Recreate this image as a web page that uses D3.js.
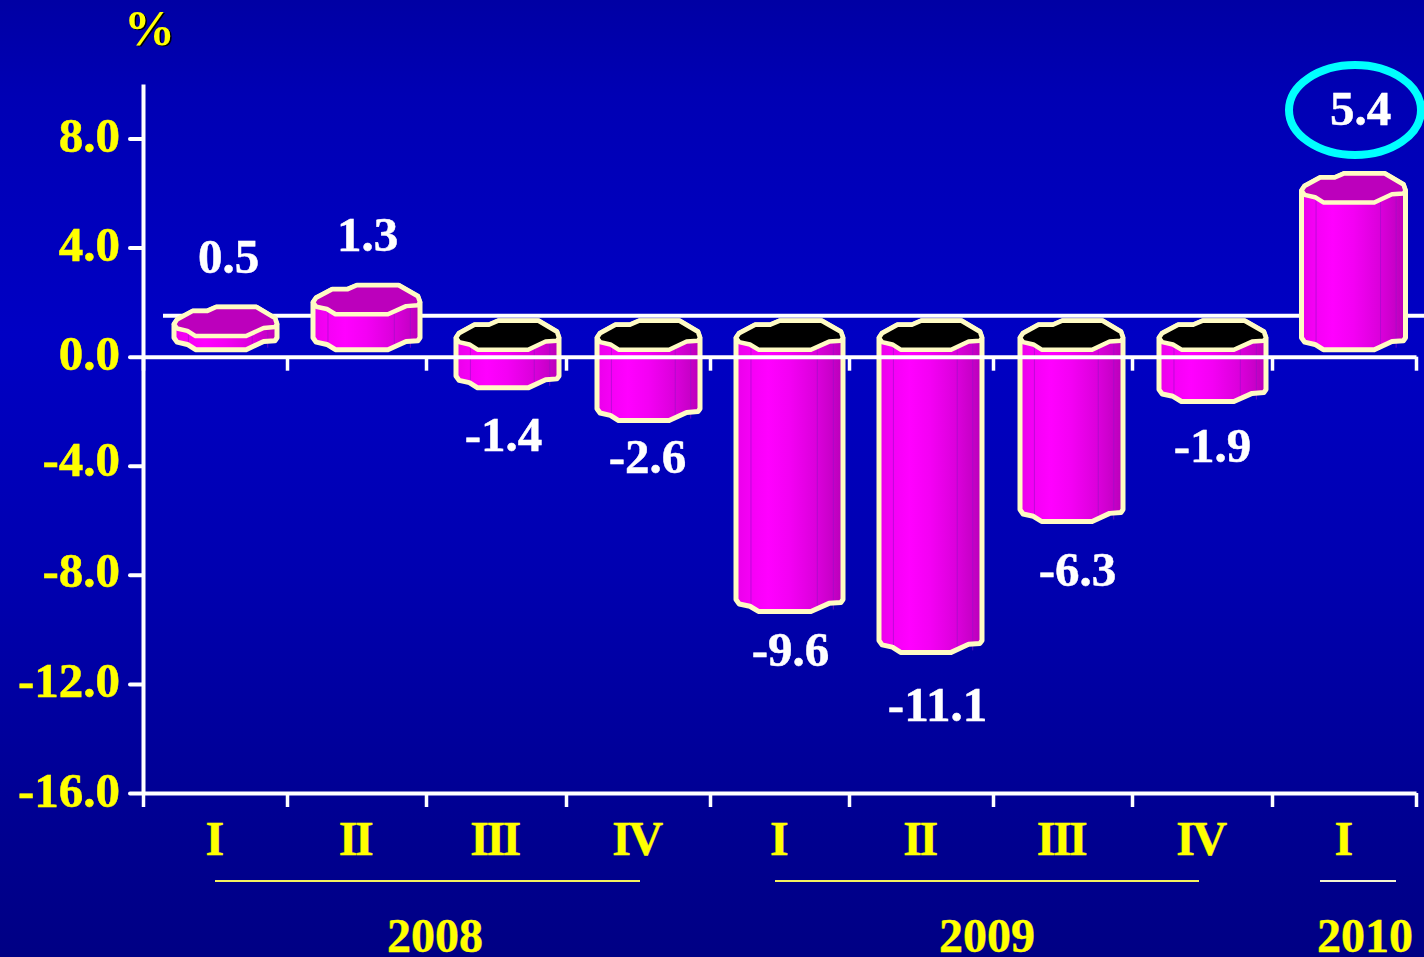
<!DOCTYPE html>
<html><head><meta charset="utf-8">
<style>
html,body{margin:0;padding:0;background:#0000a8;overflow:hidden}
svg{display:block}
text{font-family:"Liberation Serif",serif;font-weight:700}
</style>
<script src="https://cdn.jsdelivr.net/npm/d3@7"></script>
</head><body>
<script>
// ---- data ----
const quarters = ["I","II","III","IV","I","II","III","IV","I"];
const growth = [0.5,1.3,-1.4,-2.6,-9.6,-11.1,-6.3,-1.9,5.4];
const growthLabels = ["0.5","1.3","-1.4","-2.6","-9.6","-11.1","-6.3","-1.9","5.4"];
const yTicks = [8,4,0,-4,-8,-12,-16];
const years = ["2008","2009","2010"];
const unit = "%";
const floorLevel = 1.5;

// ---- layout ----
const W=1424,H=957;
const barWidths=[103,107,103,103,107,103,103,107,104], capH=29, baseLift=7;
const quarterEdgePx=[143,287,426,566,710,849,993,1132,1272,1416];
const labelNudgeX=[3,1,-4,-1,1,7,6,0,7];
const labelGap=[63,63,63,52,55,69,65,60,77];
const yearCentre=[435,987,1365];
const yearRuleFrom=[215,775,1320], yearRuleTo=[640,1199,1396];

const svg=d3.select("body").append("svg").attr("width",W).attr("height",H);
const defs=svg.append("defs");
const bg=defs.append("linearGradient").attr("id","bg").attr("x1",0).attr("x2",0).attr("y1",0).attr("y2",1);
[[0,"#0000a4"],[.1,"#0000b4"],[.35,"#0000c4"],[.6,"#0000b0"],[.85,"#000092"],[1,"#000084"]]
 .forEach(s=>bg.append("stop").attr("offset",s[0]).attr("stop-color",s[1]));
const bodyG=defs.append("linearGradient").attr("id","body").attr("x1",0).attr("x2",1).attr("y1",0).attr("y2",0);
[[0,"#ea00ea"],[.12,"#f400f4"],[.3,"#ff00ff"],[.5,"#f400f4"],[.7,"#e000e0"],[.78,"#d800d8"],[.9,"#c800c8"],[1,"#b800b8"]]
 .forEach(s=>bodyG.append("stop").attr("offset",s[0]).attr("stop-color",s[1]));
svg.append("rect").attr("width",W).attr("height",H).attr("fill","url(#bg)");

const y=d3.scaleLinear().domain([-16,10]).range([793,84]);
const x=d3.scaleLinear().domain(d3.range(10)).range(quarterEdgePx);
const barX=d3.scaleLinear().domain([0,8]).range([225.5,1353.5]);

// back line
svg.append("line").attr("x1",163).attr("x2",W).attr("y1",y(floorLevel)).attr("y2",y(floorLevel))
 .attr("stroke","#fff").attr("stroke-width",4);

// cap outline, normalised to bar width / cap height
const capBack=[[0,.59],[.03,.43],[.18,.14],[.32,.14],[.41,0],[.8,0],[.98,.38],[1,.59]];
const capFront=[[1,.59],[.98,.69],[.87,.72],[.7,1],[.21,1],[.13,.82],[.03,.74],[0,.59]];
const sideSeams=[.14,.76,.91];
const line=d3.line();

const bars=svg.append("g").selectAll("g").data(growth).join("g")
 .attr("transform",(d,i)=>`translate(${barX(i)-barWidths[i]/2},0)`);
bars.each(function(v,i){
  const g=d3.select(this);
  const barW=barWidths[i];
  const base=y(0)-baseLift, tip=y(v)-baseLift;
  const frontTop=v>=0?tip:base, frontBottom=v>=0?base:tip;
  const capTop=frontTop-capH;
  const pt=(p,off)=>[p[0]*barW,capTop+p[1]*capH+off];
  const height=frontBottom-frontTop;
  const outline=[...capBack.map(p=>pt(p,0)),...capFront.map(p=>pt(p,height))];
  g.append("path").attr("d",line(outline)+"Z").attr("fill","url(#body)");
  sideSeams.forEach(u=>{
    g.append("line").attr("x1",u*barW).attr("x2",u*barW).attr("y1",capTop+capH*.8).attr("y2",frontBottom-2)
      .attr("stroke","#9a10c8").attr("stroke-width",1).attr("opacity",.6);
  });
  g.append("path").attr("d",line(outline)+"Z").attr("fill","none")
   .attr("stroke","#fffbc4").attr("stroke-width",5).attr("stroke-linejoin","round");
  const cap=[...capBack,...capFront.slice(1)].map(p=>pt(p,0));
  g.append("path").attr("d",line(cap)+"Z").attr("fill",v>=0?"#bc00bc":"#000")
   .attr("stroke","#fffbc4").attr("stroke-width",4.5).attr("stroke-linejoin","round");
});

// axes
function styleAxis(g){
  g.selectAll("path.domain").attr("stroke","#fff").attr("stroke-width",4);
  g.selectAll(".tick line").attr("stroke","#fff").attr("stroke-width",4).attr("stroke-linecap","round");
}
const tickText=d=>d3.format(".1f")(d).replace("\u2212","-");
const yAxis=svg.append("g").attr("transform",`translate(${x(0)},0)`)
 .call(d3.axisLeft(y).tickValues(yTicks).tickSize(13).tickSizeOuter(0).tickPadding(10).tickFormat(tickText));
styleAxis(yAxis);
yAxis.selectAll(".tick text").attr("fill","#ffff00").attr("stroke","#ffff00").attr("stroke-width",.5).attr("dy",null)
 .attr("y",d=>d===-4?10:d===-8?12:13)
 .style("font-size","49px").style("font-family",'"Liberation Serif",serif').style("font-weight",700);

const xAx=d3.axisBottom(x).tickValues(d3.range(0,10)).tickSize(14).tickSizeOuter(0).tickFormat("");
[0,-16].forEach(level=>{
  const g=svg.append("g").attr("transform",`translate(0,${y(level)})`).call(xAx);
  styleAxis(g);
  g.selectAll(".tick line").attr("stroke-linecap","butt").attr("stroke-width",3.5);
});

// quarter labels
svg.append("g").selectAll("text").data(quarters).join("text")
 .attr("x",(d,i)=>x(i+.5)-1.5).attr("y",855).attr("text-anchor","middle")
 .attr("letter-spacing",-2.5).attr("stroke","#ffff00").attr("stroke-width",.4)
 .attr("fill","#ffff00").attr("font-size",48).text(d=>d);

// year rules and labels
svg.append("g").selectAll("line").data(years).join("line")
 .attr("x1",(d,i)=>yearRuleFrom[i]).attr("x2",(d,i)=>yearRuleTo[i]).attr("y1",881).attr("y2",881)
 .attr("stroke",(d,i)=>i==2?"#f4f4d0":"#f4f060").attr("stroke-width",2);
svg.append("g").selectAll("text").data(years).join("text")
 .attr("x",(d,i)=>yearCentre[i]).attr("y",952).attr("text-anchor","middle")
 .attr("stroke","#ffff00").attr("stroke-width",.4)
 .attr("fill","#ffff00").attr("font-size",48).text(d=>d);

// value labels
svg.append("g").selectAll("text").data(growth).join("text")
 .attr("x",(d,i)=>barX(i)+labelNudgeX[i])
 .attr("y",(d,i)=>y(d)-baseLift+(d>=0?-labelGap[i]:labelGap[i]))
 .attr("text-anchor","middle").attr("fill","#fff").attr("stroke","#fff").attr("stroke-width",.5).attr("font-size",49)
 .text((d,i)=>growthLabels[i]);

// highlight
svg.append("ellipse").attr("cx",1355).attr("cy",110).attr("rx",66).attr("ry",45)
 .attr("fill","none").attr("stroke","#00ffff").attr("stroke-width",8);

// unit
svg.append("text").attr("x",151).attr("y",46).attr("text-anchor","middle").attr("fill","#000").attr("font-size",51).text(unit);
svg.append("text").attr("x",149.5).attr("y",44.5).attr("text-anchor","middle").attr("fill","#ffff00").attr("font-size",51).text(unit);
</script>
</body></html>
